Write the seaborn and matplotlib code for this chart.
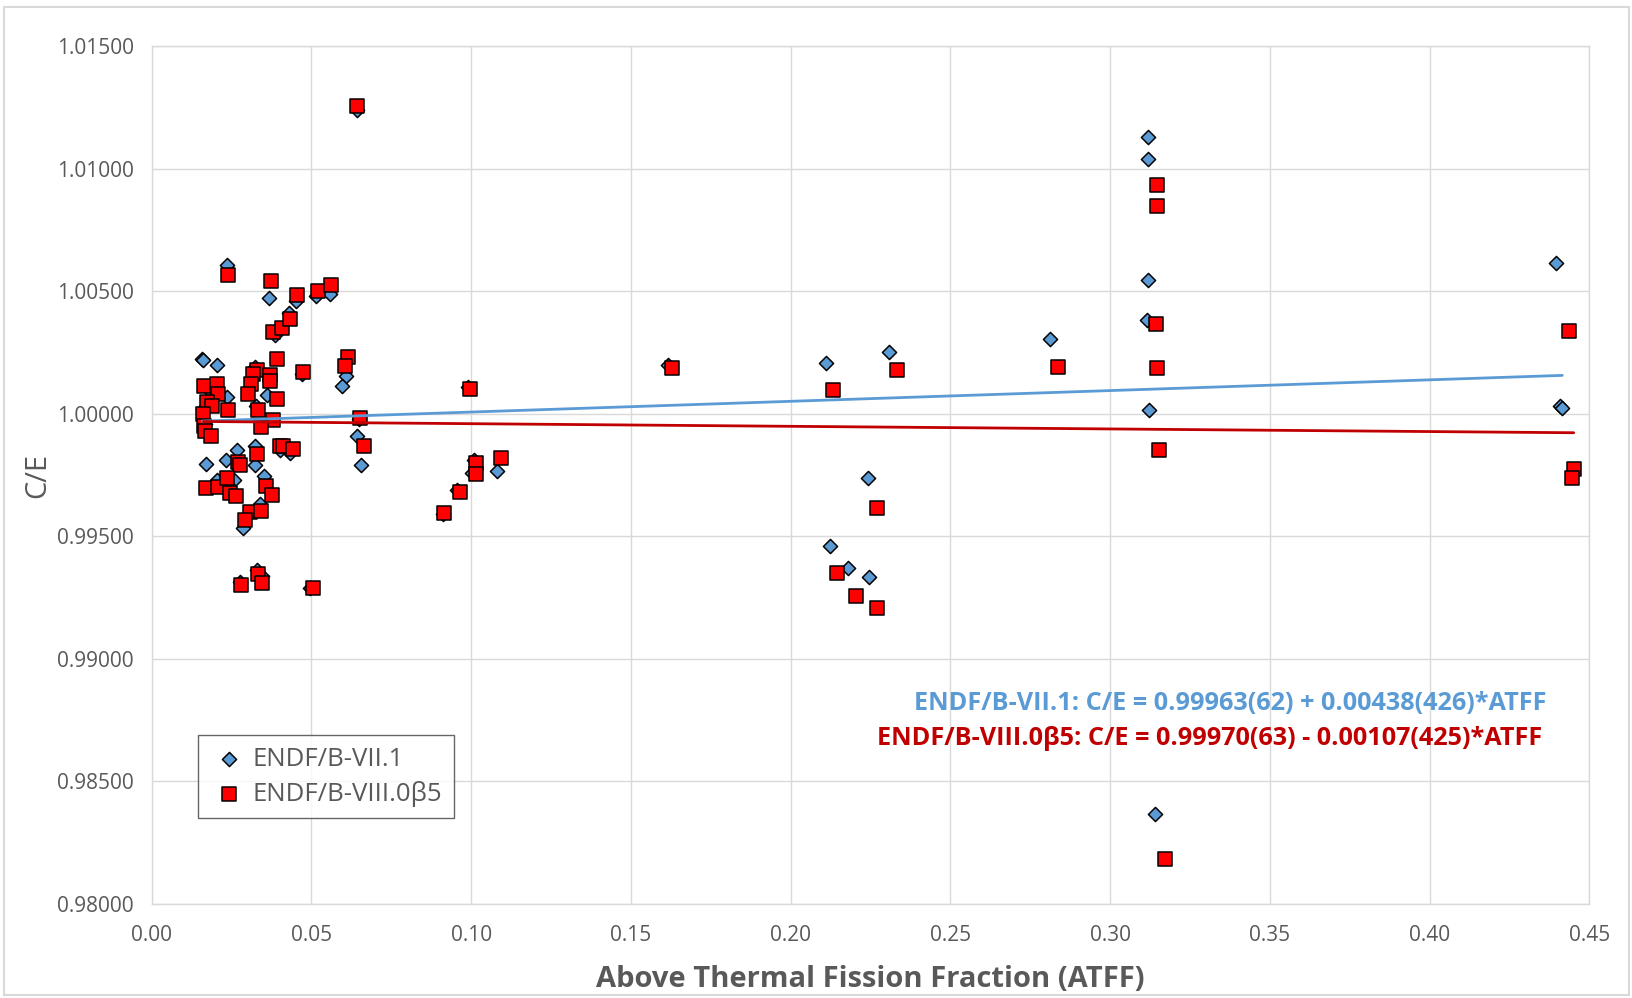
import matplotlib
matplotlib.use("Agg")
import matplotlib.pyplot as plt
from matplotlib.patches import Rectangle
import numpy as np
import pandas as pd
import seaborn as sns

# ENDF/B-VII.1 results: above-thermal fission fraction and C/E
atff_vii1 = [0.0158, 0.0162, 0.0203, 0.0237, 0.0367, 0.0453, 0.0515, 0.0557,
             0.0431, 0.0385, 0.0469, 0.0608, 0.0596, 0.0642, 0.0360, 0.0327,
             0.0237, 0.0160, 0.0176, 0.0170, 0.0233, 0.0266, 0.0323, 0.0323,
             0.0403, 0.0434, 0.0203, 0.0258, 0.0240, 0.0352, 0.0340, 0.0287,
             0.0275, 0.0329, 0.0345, 0.0497, 0.0642, 0.0655, 0.0650, 0.0991,
             0.1617, 0.1080, 0.1010, 0.1001, 0.0955, 0.0911, 0.2110, 0.2309,
             0.2812, 0.3114, 0.3122, 0.2243, 0.2123, 0.2180, 0.2246, 0.3118,
             0.3118, 0.3118, 0.3141, 0.4395, 0.4408, 0.4415, 0.0322, 0.0168]
ce_vii1 = [1.00224, 1.00220, 1.00198, 1.00605, 1.00471, 1.00460, 1.00480, 1.00490,
           1.00410, 1.00320, 1.00160, 1.00153, 1.00115, 1.01240, 1.00076, 1.00030,
           1.00067, 1.00020, 1.00100, 0.99796, 0.99813, 0.99854, 0.99870, 0.99790,
           0.99850, 0.99840, 0.99731, 0.99730, 0.99710, 0.99745, 0.99630, 0.99534,
           0.99315, 0.99364, 0.99340, 0.99290, 0.99911, 0.99790, 0.99980, 1.00110,
           1.00200, 0.99768, 0.99810, 0.99760, 0.99690, 0.99590, 1.00208, 1.00253,
           1.00303, 1.00382, 1.00014, 0.99737, 0.99459, 0.99370, 0.99333, 1.01127,
           1.01038, 1.00547, 0.98369, 1.00614, 1.00030, 1.00025, 1.00190, 0.99960]

# ENDF/B-VIII.0beta5 results
atff_viii0 = [0.0240, 0.0373, 0.0381, 0.0407, 0.0456, 0.0520, 0.0560, 0.0433,
              0.0391, 0.0473, 0.0615, 0.0606, 0.0329, 0.0318, 0.0370, 0.0370,
              0.0311, 0.0302, 0.0391, 0.0334, 0.0380, 0.0164, 0.0205, 0.0208,
              0.0240, 0.0173, 0.0190, 0.0162, 0.0165, 0.0652, 0.0642, 0.0167,
              0.0186, 0.0342, 0.0269, 0.0276, 0.0329, 0.0401, 0.0412, 0.0441,
              0.0170, 0.0208, 0.0237, 0.0245, 0.0263, 0.0357, 0.0377, 0.0308,
              0.0342, 0.0292, 0.0279, 0.0332, 0.0344, 0.0504, 0.0665, 0.0996,
              0.1628, 0.1093, 0.1015, 0.1015, 0.0965, 0.0916, 0.2131, 0.2332,
              0.2836, 0.3143, 0.3146, 0.3153, 0.2269, 0.2146, 0.2203, 0.2271,
              0.3147, 0.3147, 0.3173, 0.4435, 0.4451, 0.4444]
ce_viii0 = [1.00564, 1.00541, 1.00333, 1.00350, 1.00485, 1.00500, 1.00524, 1.00387,
            1.00224, 1.00170, 1.00230, 1.00194, 1.00180, 1.00160, 1.00156, 1.00133,
            1.00120, 1.00081, 1.00061, 1.00017, 0.99976, 1.00112, 1.00122, 1.00082,
            1.00014, 1.00049, 1.00030, 0.99997, 0.99950, 0.99983, 1.01255, 0.99929,
            0.99908, 0.99946, 0.99802, 0.99790, 0.99834, 0.99870, 0.99867, 0.99857,
            0.99698, 0.99700, 0.99736, 0.99677, 0.99666, 0.99707, 0.99670, 0.99598,
            0.99602, 0.99568, 0.99300, 0.99347, 0.99310, 0.99289, 0.99870, 1.00099,
            1.00187, 0.99820, 0.99797, 0.99755, 0.99681, 0.99593, 1.00095, 1.00180,
            1.00190, 1.00364, 1.00187, 0.99851, 0.99616, 0.99351, 0.99258, 0.99208,
            1.00932, 1.00847, 0.98182, 1.00339, 0.99775, 0.99737]

# Linear fit coefficients (intercept, slope)
fit_vii1 = (0.99963, 0.00438)
fit_viii0 = (0.99970, -0.00107)

label_vii1 = "ENDF/B-VII.1"
label_viii0 = "ENDF/B-VIII.0\u03b25"
eq_vii1 = "ENDF/B-VII.1: C/E = 0.99963(62) + 0.00438(426)*ATFF"
eq_viii0 = "ENDF/B-VIII.0\u03b25: C/E = 0.99970(63) - 0.00107(425)*ATFF"

x_ticks = [0.00, 0.05, 0.10, 0.15, 0.20, 0.25, 0.30, 0.35, 0.40, 0.45]
y_ticks = [0.980, 0.985, 0.990, 0.995, 1.000, 1.005, 1.010, 1.015]

BLUE = "#5B9BD5"
RED_FILL = "#FF0000"
RED_LINE = "#C00000"
GREY_TXT = "#595959"
GRID = "#D9D9D9"

sns.set_theme(style="white")
plt.rcParams["font.family"] = ["Open Sans", "DejaVu Sans"]

df_a = pd.DataFrame({"atff": atff_vii1, "ce": ce_vii1})
df_b = pd.DataFrame({"atff": atff_viii0, "ce": ce_viii0})

fig = plt.figure(figsize=(16.33, 9.98), dpi=100)
ax = fig.add_axes([0.0929, 0.0942, 0.8804, 0.8597])

# trend lines over each data range
xa = np.array([df_a.atff.min(), df_a.atff.max()])
xb = np.array([df_b.atff.min(), df_b.atff.max()])
trend_a = pd.DataFrame({"atff": xa, "ce": fit_vii1[0] + fit_vii1[1] * xa})
trend_b = pd.DataFrame({"atff": xb, "ce": fit_viii0[0] + fit_viii0[1] * xb})

sns.scatterplot(data=df_a, x="atff", y="ce", marker="D", s=52, color=BLUE,
                edgecolor="black", linewidth=1.1, ax=ax, label=label_vii1, zorder=3)
sns.scatterplot(data=df_b, x="atff", y="ce", marker="s", s=100, color=RED_FILL,
                edgecolor="black", linewidth=1.1, ax=ax, label=label_viii0, zorder=4)
sns.lineplot(data=trend_a, x="atff", y="ce", color=BLUE, linewidth=2, ax=ax,
             legend=False, zorder=5)
sns.lineplot(data=trend_b, x="atff", y="ce", color=RED_LINE, linewidth=2, ax=ax,
             legend=False, zorder=5)

ax.set_xlim(0, 0.45)
ax.set_ylim(0.98, 1.015)
ax.set_xticks(x_ticks)
ax.set_yticks(y_ticks)
ax.set_xticklabels([f"{v:.2f}" for v in x_ticks])
ax.set_yticklabels([f"{v:.5f}" for v in y_ticks])
ax.tick_params(axis="both", length=0, labelsize=15, labelcolor=GREY_TXT)
ax.tick_params(axis="x", pad=15)
ax.tick_params(axis="y", pad=13)
ax.grid(True, color=GRID, linewidth=1)
ax.set_axisbelow(True)
for sp in ax.spines.values():
    sp.set_color(GRID)
    sp.set_linewidth(1)

ax.set_xlabel("Above Thermal Fission Fraction (ATFF)", fontsize=21, fontweight="bold",
              color=GREY_TXT, labelpad=14)
ax.set_ylabel("C/E", fontsize=21, color=GREY_TXT, labelpad=3)

leg = ax.legend(loc="lower left", bbox_to_anchor=(0.032, 0.100), borderaxespad=0,
                frameon=True, fancybox=False, fontsize=18.5, handletextpad=0.2,
                borderpad=0.45, labelspacing=0.35, handlelength=1.5)
leg.get_frame().set_edgecolor("#404040")
leg.get_frame().set_linewidth(1)
for t in leg.get_texts():
    t.set_color(GREY_TXT)

ax.text(0.9705, 0.2331, eq_vii1, transform=ax.transAxes, ha="right", va="center",
        fontsize=18.2, fontweight="bold", color=BLUE)
ax.text(0.967, 0.1923, eq_viii0, transform=ax.transAxes, ha="right", va="center",
        fontsize=18.2, fontweight="bold", color=RED_LINE)

fig.patches.append(Rectangle((4 / 1633, 3 / 998), 1625 / 1633, 988 / 998,
                             transform=fig.transFigure, fill=False,
                             edgecolor=GRID, linewidth=1.5))

fig.savefig("out.png", dpi=100)
